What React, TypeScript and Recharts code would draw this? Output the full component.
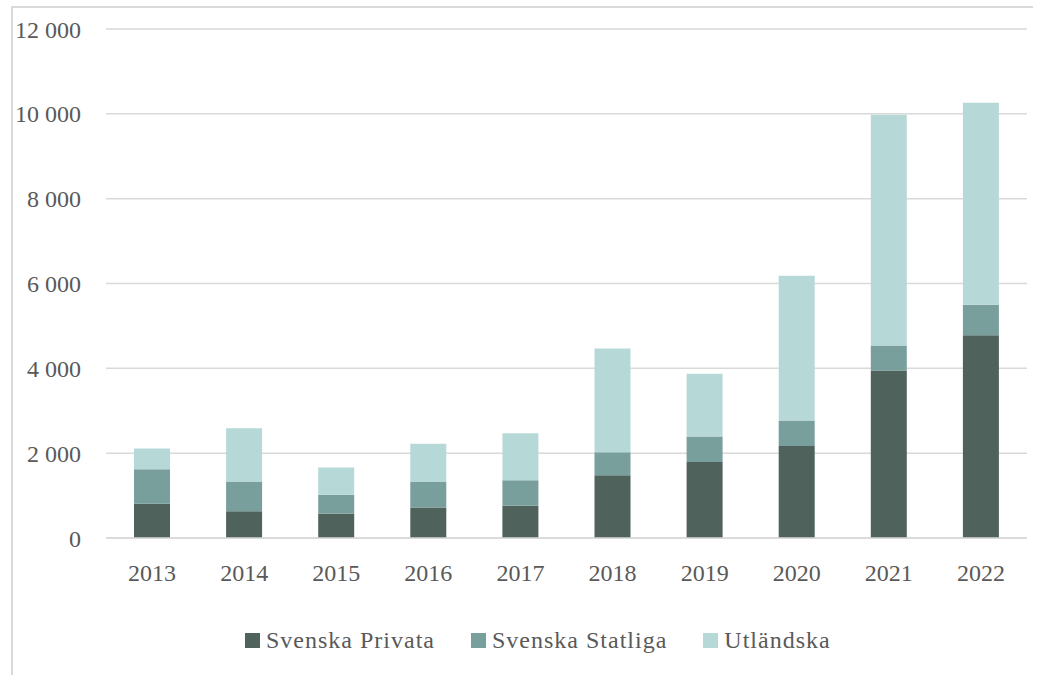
import React from 'react'
import { BarChart, Bar, XAxis, YAxis, CartesianGrid } from 'recharts'

// ── Data ──────────────────────────────────────────────────────────────────────

const YEARS = ['2013', '2014', '2015', '2016', '2017', '2018', '2019', '2020', '2021', '2022']

const PRIVATA   = [810, 630, 570, 720, 760, 1480, 1790, 2170, 3950, 4780]
const STATLIGA  = [810, 700, 450, 600, 600, 540, 600, 600, 590, 720]
const UTLANDSKA = [490, 1260, 640, 900, 1110, 2450, 1480, 3410, 5440, 4760]

const Y_TICKS = [0, 2000, 4000, 6000, 8000, 10000, 12000]

const SERIES = [
  { key: 'privata',   name: 'Svenska Privata',  color: '#4f625b' },
  { key: 'statliga',  name: 'Svenska Statliga', color: '#799f9c' },
  { key: 'utlandska', name: 'Utländska',        color: '#b6d9d7' },
]

const data = YEARS.map((year, i) => ({
  year,
  privata: PRIVATA[i],
  statliga: STATLIGA[i],
  utlandska: UTLANDSKA[i],
}))

const FONT = '"Liberation Serif", "DejaVu Serif", serif'
const TEXT = '#595959'
const GRID = '#d9d9d9'

const fmt = (v: number) => String(v).replace(/\B(?=(\d{3})+(?!\d))/g, ' ')

export default function App() {
  return (
    <div style={{ position: 'absolute', left: 0, top: 0, width: 1040, height: 675, background: '#fff', overflow: 'hidden', fontFamily: FONT }}>
      {/* outer frame, only top and left edges visible */}
      <div
        style={{
          position: 'absolute', left: 11, top: 6, width: 1020, height: 700,
          borderLeft: `2px solid ${GRID}`, borderTop: `2px solid ${GRID}`,
        }}
      />
      <div style={{ position: 'absolute', left: 0, top: 0 }}>
        <BarChart
          width={1040}
          height={675}
          data={data}
          margin={{ top: 29, right: 13, left: 10, bottom: 77 }}
          barSize={36}
        >
          <CartesianGrid vertical={false} stroke={GRID} strokeWidth={1.5} />
          <XAxis
            dataKey="year"
            axisLine={{ stroke: GRID, strokeWidth: 1.5 }}
            tickLine={false}
            tickSize={0}
            tickMargin={26}
            height={60}
            tick={{ fontSize: 24, fill: TEXT, fontFamily: FONT }}
          />
          <YAxis
            domain={[0, 12000]}
            ticks={Y_TICKS}
            tickFormatter={fmt}
            axisLine={false}
            tickLine={false}
            tickSize={0}
            tickMargin={25}
            width={96}
            tick={{ fontSize: 24, fill: TEXT, fontFamily: FONT }}
          />
          {SERIES.map(s => (
            <Bar key={s.key} dataKey={s.key} name={s.name} stackId="a" fill={s.color} isAnimationActive={false} />
          ))}
        </BarChart>
      </div>
      {/* legend */}
      <div style={{ position: 'absolute', left: 245, top: 626, display: 'flex', alignItems: 'center', gap: 36 }}>
        {SERIES.map(s => (
          <div key={s.key} style={{ display: 'flex', alignItems: 'center', gap: 6 }}>
            <div style={{ width: 15, height: 15, background: s.color }} />
            <span style={{ fontSize: 24, color: TEXT, lineHeight: '28px', letterSpacing: 1 }}>{s.name}</span>
          </div>
        ))}
      </div>
    </div>
  )
}
